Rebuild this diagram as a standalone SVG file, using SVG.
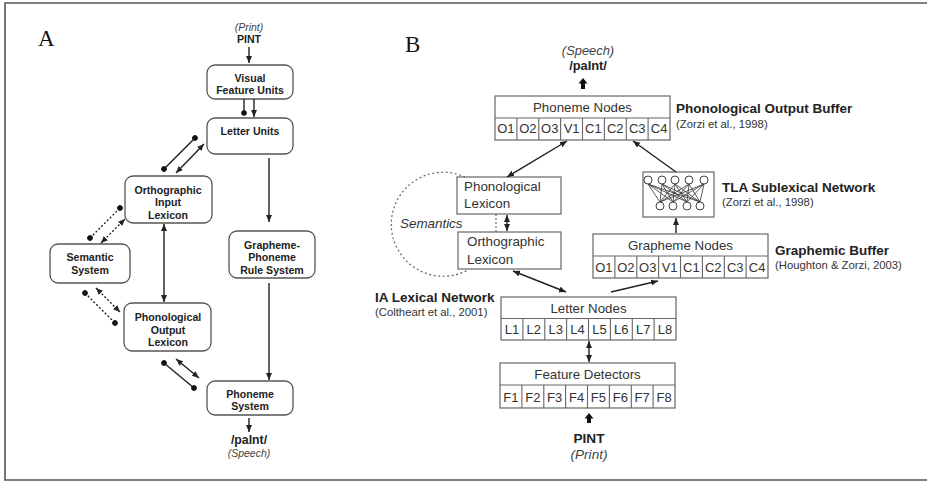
<svg xmlns="http://www.w3.org/2000/svg" width="927" height="482" viewBox="0 0 927 482">
<style>
  text{font-family:"Liberation Sans",Arial,sans-serif;fill:#222}
  .lab{font-family:"Liberation Serif","Times New Roman",serif;font-size:23px;fill:#111}
  .ab{font-weight:bold;font-size:10.6px;text-anchor:middle}
  .ai{font-style:italic;font-size:10.5px;text-anchor:middle;fill:#444}
  .abox{fill:#fff;stroke:#555;stroke-width:1.3}
  .bbox{fill:#fff;stroke:#666;stroke-width:1.2}
  .bt{font-size:13.3px;text-anchor:middle;fill:#333}
  .bl{font-size:13.4px;fill:#333}
  .cell{font-size:13px;text-anchor:middle;fill:#333}
  .hd{font-weight:bold;font-size:13.5px}
  .ref{font-size:11.3px;fill:#333}
  .ln{fill:none;stroke:#222;stroke-width:1.4}
  .dt{stroke-dasharray:2 2}
  .net line{stroke:#333;stroke-width:0.8}
  .net circle{fill:#fff;stroke:#444;stroke-width:1}
</style>
<defs>
  <marker id="ah" markerUnits="userSpaceOnUse" markerWidth="8" markerHeight="7" refX="7" refY="3" orient="auto-start-reverse">
    <path d="M0,0 L7,3 L0,6 z" fill="#222"/>
  </marker>
  <marker id="dot" markerUnits="userSpaceOnUse" markerWidth="7" markerHeight="7" refX="3.5" refY="3.5" orient="auto">
    <circle cx="3.5" cy="3.5" r="2.8" fill="#111"/>
  </marker>
</defs>

<path d="M930,3 H5 V480 H930" fill="none" stroke="#555" stroke-width="1.6"/>

<!-- Panel A -->
<text class="lab" x="38" y="46">A</text>
<text class="ai" x="249" y="31">(Print)</text>
<text class="ab" x="249" y="43">PINT</text>
<text class="ab" x="249" y="444" style="font-size:12.3px">/paInt/</text>
<text class="ai" x="249" y="457">(Speech)</text>

<g id="a-visual"><rect class="abox" x="207" y="65" width="86" height="34" rx="8"/>
  <text class="ab" x="250" y="82">Visual</text><text class="ab" x="250" y="94">Feature Units</text></g>
<g id="a-letter"><rect class="abox" x="207" y="118" width="86" height="36" rx="8"/>
  <text class="ab" x="250" y="135">Letter Units</text></g>
<g id="a-orth"><rect class="abox" x="125" y="176" width="87" height="47" rx="8"/>
  <text class="ab" x="168" y="194">Orthographic</text><text class="ab" x="168" y="206">Input</text><text class="ab" x="168" y="219">Lexicon</text></g>
<g id="a-gpr"><rect class="abox" x="229" y="231" width="86" height="47" rx="8"/>
  <text class="ab" x="272" y="249">Grapheme-</text><text class="ab" x="272" y="261">Phoneme</text><text class="ab" x="272" y="274">Rule System</text></g>
<g id="a-sem"><rect class="abox" x="50" y="244" width="80" height="39" rx="8"/>
  <text class="ab" x="90" y="261">Semantic</text><text class="ab" x="90" y="274">System</text></g>
<g id="a-pol"><rect class="abox" x="124" y="303" width="87" height="48" rx="8"/>
  <text class="ab" x="168" y="321">Phonological</text><text class="ab" x="168" y="334">Output</text><text class="ab" x="168" y="346">Lexicon</text></g>
<g id="a-phon"><rect class="abox" x="207" y="381" width="86" height="34" rx="8"/>
  <text class="ab" x="250" y="398">Phoneme</text><text class="ab" x="250" y="410">System</text></g>

<!-- Panel B -->
<text class="lab" x="405" y="52">B</text>
<text class="ai" x="588" y="55" style="font-size:12.9px">(Speech)</text>
<text class="ab" x="588" y="70" style="font-size:12.8px">/paInt/</text>
<polygon points="583,78 578.5,83.5 581,83.5 581,89 585,89 585,83.5 587.5,83.5" fill="#111"/>
<polygon points="589,413 584.5,418.5 587,418.5 587,423 591,423 591,418.5 593.5,418.5" fill="#111"/>
<text class="ab" x="589" y="443" style="font-size:13.6px">PINT</text>
<text class="ai" x="589" y="459" style="font-size:13.6px">(Print)</text>

<g id="b-phoneme" transform="translate(495,96)">
  <rect class="bbox" x="0" y="0" width="175" height="44"/>
  <path d="M0,22 H175 M21.9,22 V44 M43.8,22 V44 M65.6,22 V44 M87.5,22 V44 M109.4,22 V44 M131.3,22 V44 M153.1,22 V44" stroke="#666" stroke-width="1.1"/>
  <text class="bt" x="87.5" y="15.5">Phoneme Nodes</text>
  <text class="cell" x="10.9" y="37">O1</text><text class="cell" x="32.8" y="37">O2</text><text class="cell" x="54.7" y="37">O3</text><text class="cell" x="76.6" y="37">V1</text>
  <text class="cell" x="98.4" y="37">C1</text><text class="cell" x="120.3" y="37">C2</text><text class="cell" x="142.2" y="37">C3</text><text class="cell" x="164.1" y="37">C4</text>
</g>
<g id="b-pob-label"><text class="hd" x="676" y="113">Phonological Output Buffer</text><text class="ref" x="676" y="128">(Zorzi et al., 1998)</text></g>

<g id="b-phonlex"><rect class="bbox" x="457" y="177" width="104" height="37"/>
  <text class="bl" x="464" y="191">Phonological</text><text class="bl" x="464" y="208">Lexicon</text></g>
<g id="b-orthlex"><rect class="bbox" x="458" y="232" width="103" height="37"/>
  <text class="bl" x="467" y="246">Orthographic</text><text class="bl" x="467" y="264">Lexicon</text></g>
<g id="b-semantics">
  <path d="M465,177 A52,52 0 1,0 468,270" fill="none" stroke="#666" stroke-width="1.2" stroke-dasharray="2 2.5"/>
  <text class="bl" x="400" y="228" style="font-style:italic">Semantics</text>
</g>

<g id="b-tla"><rect class="bbox" x="643" y="172" width="71" height="45"/>
  <g class="net">
    <line x1="648" y1="184" x2="660" y2="202"/><line x1="648" y1="184" x2="673" y2="202"/><line x1="648" y1="184" x2="687" y2="202"/><line x1="648" y1="184" x2="700" y2="202"/>
    <line x1="662" y1="184" x2="660" y2="202"/><line x1="662" y1="184" x2="673" y2="202"/><line x1="662" y1="184" x2="687" y2="202"/><line x1="662" y1="184" x2="700" y2="202"/>
    <line x1="675" y1="184" x2="660" y2="202"/><line x1="675" y1="184" x2="673" y2="202"/><line x1="675" y1="184" x2="687" y2="202"/><line x1="675" y1="184" x2="700" y2="202"/>
    <line x1="689" y1="184" x2="660" y2="202"/><line x1="689" y1="184" x2="673" y2="202"/><line x1="689" y1="184" x2="687" y2="202"/><line x1="689" y1="184" x2="700" y2="202"/>
    <line x1="704" y1="184" x2="660" y2="202"/><line x1="704" y1="184" x2="673" y2="202"/><line x1="704" y1="184" x2="687" y2="202"/><line x1="704" y1="184" x2="700" y2="202"/>
    <circle cx="648" cy="180" r="4"/><circle cx="662" cy="180" r="4"/><circle cx="675" cy="180" r="4"/><circle cx="689" cy="180" r="4"/><circle cx="704" cy="180" r="4"/>
    <circle cx="660" cy="206" r="4"/><circle cx="673" cy="206" r="4"/><circle cx="687" cy="206" r="4"/><circle cx="700" cy="206" r="4"/>
  </g>
</g>
<g id="b-tla-label"><text class="hd" x="722" y="192">TLA Sublexical Network</text><text class="ref" x="722" y="206">(Zorzi et al., 1998)</text></g>

<g id="b-grapheme" transform="translate(593,234)">
  <rect class="bbox" x="0" y="0" width="175" height="44"/>
  <path d="M0,22 H175 M21.9,22 V44 M43.8,22 V44 M65.6,22 V44 M87.5,22 V44 M109.4,22 V44 M131.3,22 V44 M153.1,22 V44" stroke="#666" stroke-width="1.1"/>
  <text class="bt" x="87.5" y="16">Grapheme Nodes</text>
  <text class="cell" x="10.9" y="37.5">O1</text><text class="cell" x="32.8" y="37.5">O2</text><text class="cell" x="54.7" y="37.5">O3</text><text class="cell" x="76.6" y="37.5">V1</text>
  <text class="cell" x="98.4" y="37.5">C1</text><text class="cell" x="120.3" y="37.5">C2</text><text class="cell" x="142.2" y="37.5">C3</text><text class="cell" x="164.1" y="37.5">C4</text>
</g>
<g id="b-gb-label"><text class="hd" x="775" y="255">Graphemic Buffer</text><text class="ref" x="775" y="269">(Houghton &amp; Zorzi, 2003)</text></g>

<g id="b-ia-label"><text class="hd" x="375" y="302">IA Lexical Network</text><text class="ref" x="375" y="316">(Coltheart et al., 2001)</text></g>
<g id="b-letter" transform="translate(501,297)">
  <rect class="bbox" x="0" y="0" width="175" height="43"/>
  <path d="M0,21.5 H175 M21.9,21.5 V43 M43.8,21.5 V43 M65.6,21.5 V43 M87.5,21.5 V43 M109.4,21.5 V43 M131.3,21.5 V43 M153.1,21.5 V43" stroke="#666" stroke-width="1.1"/>
  <text class="bt" x="87.5" y="15.5">Letter Nodes</text>
  <text class="cell" x="10.9" y="37">L1</text><text class="cell" x="32.8" y="37">L2</text><text class="cell" x="54.7" y="37">L3</text><text class="cell" x="76.6" y="37">L4</text>
  <text class="cell" x="98.4" y="37">L5</text><text class="cell" x="120.3" y="37">L6</text><text class="cell" x="142.2" y="37">L7</text><text class="cell" x="164.1" y="37">L8</text>
</g>
<g id="b-feature" transform="translate(500,363)">
  <rect class="bbox" x="0" y="0" width="175" height="45"/>
  <path d="M0,22 H175 M21.9,22 V45 M43.8,22 V45 M65.6,22 V45 M87.5,22 V45 M109.4,22 V45 M131.3,22 V45 M153.1,22 V45" stroke="#666" stroke-width="1.1"/>
  <text class="bt" x="87.5" y="16">Feature Detectors</text>
  <text class="cell" x="10.9" y="38.5">F1</text><text class="cell" x="32.8" y="38.5">F2</text><text class="cell" x="54.7" y="38.5">F3</text><text class="cell" x="76.6" y="38.5">F4</text>
  <text class="cell" x="98.4" y="38.5">F5</text><text class="cell" x="120.3" y="38.5">F6</text><text class="cell" x="142.2" y="38.5">F7</text><text class="cell" x="164.1" y="38.5">F8</text>
</g>

<g id="connectors">
  <!-- Panel A -->
  <line class="ln" x1="249" y1="47" x2="249" y2="63" marker-end="url(#ah)"/>
  <line class="ln" x1="244" y1="99" x2="244" y2="113" marker-end="url(#dot)"/>
  <line class="ln" x1="254" y1="99" x2="254" y2="117" marker-end="url(#ah)"/>
  <line class="ln" x1="164" y1="169" x2="195" y2="138" marker-start="url(#dot)" marker-end="url(#dot)"/>
  <line class="ln" x1="176" y1="173" x2="204" y2="144" marker-start="url(#ah)" marker-end="url(#ah)"/>
  <line class="ln dt" x1="90" y1="238" x2="120" y2="208" marker-start="url(#dot)" marker-end="url(#dot)"/>
  <line class="ln dt" x1="101" y1="243" x2="125" y2="219" marker-start="url(#ah)" marker-end="url(#ah)"/>
  <line class="ln dt" x1="85" y1="293" x2="115" y2="323" marker-start="url(#dot)" marker-end="url(#dot)"/>
  <line class="ln dt" x1="96" y1="288" x2="120" y2="312" marker-start="url(#ah)" marker-end="url(#ah)"/>
  <line class="ln" x1="164" y1="224" x2="164" y2="302" marker-start="url(#ah)" marker-end="url(#ah)"/>
  <line class="ln" x1="269" y1="158" x2="269" y2="222" marker-end="url(#ah)"/>
  <line class="ln" x1="269" y1="283" x2="269" y2="380" marker-end="url(#ah)"/>
  <line class="ln" x1="164" y1="363" x2="194" y2="388" marker-start="url(#dot)" marker-end="url(#dot)"/>
  <line class="ln" x1="176" y1="359" x2="199" y2="378" marker-start="url(#ah)" marker-end="url(#ah)"/>
  <line class="ln" x1="249" y1="418" x2="249" y2="432" marker-end="url(#ah)"/>
  <!-- Panel B -->
  <line class="ln" x1="567" y1="141" x2="507" y2="177" marker-start="url(#ah)" marker-end="url(#ah)"/>
  <line class="ln" x1="676" y1="172" x2="633" y2="141" marker-end="url(#ah)"/>
  <line class="ln" x1="507" y1="215" x2="507" y2="231" marker-start="url(#ah)" marker-end="url(#ah)"/>
  <line x1="496" y1="214" x2="496" y2="232" stroke="#666" stroke-width="1.1" stroke-dasharray="2 2"/>
  <line class="ln" x1="676" y1="233" x2="676" y2="218" marker-end="url(#ah)"/>
  <line class="ln" x1="513" y1="271" x2="566" y2="292" marker-start="url(#ah)" marker-end="url(#ah)"/>
  <line class="ln" x1="611" y1="292" x2="658" y2="281" marker-end="url(#ah)"/>
  <line class="ln" x1="589" y1="341" x2="589" y2="362" marker-start="url(#ah)" marker-end="url(#ah)"/>
</g>
</svg>
